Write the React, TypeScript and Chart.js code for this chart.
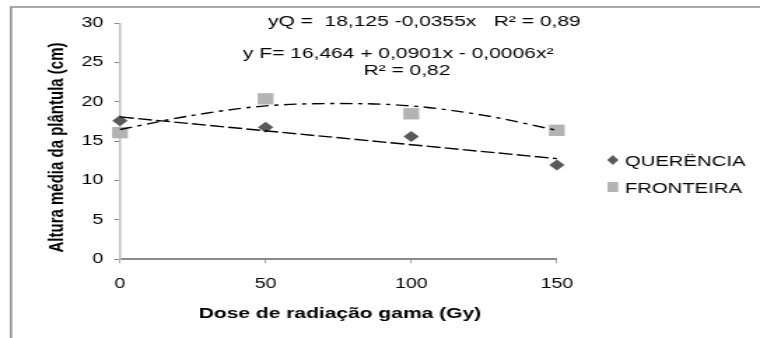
import { useEffect, useRef } from "react";
import { Chart, registerables } from "chart.js";

Chart.register(...registerables);

// ---- data ----
const doses = [0, 50, 100, 150];
const querencia = [17.6, 16.8, 15.6, 12.0];
const fronteira = [16.1, 20.4, 18.5, 16.4];
const trendQDoses = [0, 150];
const trendQ = [18.1, 12.8];
const trendFDoses = [0, 25, 50, 75, 100, 125, 150];
const trendF = [16.5, 18.3, 19.5, 19.8, 19.5, 18.3, 16.4];
const seriesLabels = ["QUERËNCIA", "FRONTEIRA"];
const xTicks = [0, 50, 100, 150];
const yTicks = [0, 5, 10, 15, 20, 25, 30];
const eqQ = "yQ =  18,125 -0,0355x   R² = 0,89";
const eqF = "y F= 16,464 + 0,0901x - 0,0006x²";
const eqFR2 = "R² = 0,82";
const xTitle = "Dose de radiação gama (Gy)";
const yTitle = "Altura média da plântula (cm)";

// ---- layout (the picture is horizontally stretched) ----
const S = 1.4;
const W = Math.round(760 / S);
const H = 338;
const sx = (v: number) => v / S;
const FONT = "'Liberation Sans', Arial, sans-serif";
const Q_COLOR = "#595959";
const F_COLOR = "#b3b3b3";

const pts = (xs: number[], ys: number[]) => xs.map((x, i) => ({ x, y: ys[i] }));

const decor = {
  id: "decor",
  afterDraw(chart: any) {
    const ctx = chart.ctx as CanvasRenderingContext2D;
    ctx.save();
    // frame
    ctx.strokeStyle = "#8c8c8c";
    ctx.lineWidth = 1.5;
    ctx.beginPath();
    ctx.moveTo(sx(11), H);
    ctx.lineTo(sx(11), 7);
    ctx.lineTo(W, 7);
    ctx.stroke();

    ctx.fillStyle = "#000";
    // equations
    ctx.font = `15px ${FONT}`;
    ctx.textAlign = "left";
    ctx.textBaseline = "alphabetic";
    ctx.fillText(eqQ, sx(268), 26);
    ctx.fillText(eqF, sx(243), 58);
    ctx.textAlign = "center";
    ctx.fillText(eqFR2, sx(407), 75);

    // axis titles
    ctx.font = `bold 15px ${FONT}`;
    ctx.textAlign = "center";
    ctx.fillText(xTitle, sx(340), 317.5);
    ctx.save();
    ctx.translate(sx(63), 147.5);
    ctx.rotate(-Math.PI / 2);
    ctx.fillText(yTitle, 0, 0);
    ctx.restore();

    // legend
    ctx.font = `14.5px ${FONT}`;
    ctx.textAlign = "left";
    ctx.fillText(seriesLabels[0], sx(625), 166);
    ctx.fillText(seriesLabels[1], sx(625), 193);
    const lx = sx(613);
    ctx.fillStyle = Q_COLOR;
    ctx.beginPath();
    ctx.moveTo(lx - 4, 160);
    ctx.lineTo(lx, 155);
    ctx.lineTo(lx + 4, 160);
    ctx.lineTo(lx, 165);
    ctx.closePath();
    ctx.fill();
    ctx.fillStyle = F_COLOR;
    ctx.fillRect(lx - 3.8, 182, 7.6, 10);
    ctx.restore();
  },
};

export default function App() {
  const ref = useRef<HTMLCanvasElement>(null);
  useEffect(() => {
    document.body.style.margin = "0";
    const chart = new Chart(ref.current!, {
      type: "scatter",
      data: {
        datasets: [
          {
            type: "line",
            label: "trendQ",
            data: pts(trendQDoses, trendQ),
            showLine: true,
            pointRadius: 0,
            borderColor: "#000",
            borderWidth: 1.4,
            borderDash: [10, 3],
            fill: false,
            clip: false,
          },
          {
            type: "line",
            label: "trendF",
            data: pts(trendFDoses, trendF),
            showLine: true,
            pointRadius: 0,
            borderColor: "#000",
            borderWidth: 1.4,
            borderDash: [9, 4, 3, 4],
            cubicInterpolationMode: "monotone",
            fill: false,
            clip: false,
          },
          {
            label: seriesLabels[0],
            data: pts(doses, querencia),
            pointStyle: "rectRot",
            pointRadius: 5.5,
            backgroundColor: Q_COLOR,
            borderColor: Q_COLOR,
            borderWidth: 0,
            clip: false,
          },
          {
            label: seriesLabels[1],
            data: pts(doses, fronteira),
            pointStyle: "rect",
            pointRadius: 8,
            backgroundColor: F_COLOR,
            borderColor: F_COLOR,
            borderWidth: 0,
            clip: false,
          },
        ],
      },
      options: {
        responsive: false,
        animation: false,
        devicePixelRatio: 1,
        layout: {
          autoPadding: false,
          padding: { left: 0, top: 23.3, right: W - sx(557), bottom: 0 },
        },
        plugins: { legend: { display: false }, tooltip: { enabled: false } },
        scales: {
          x: {
            type: "linear",
            min: 0,
            max: 150,
            afterBuildTicks: (s: any) => {
              s.ticks = xTicks.map((v) => ({ value: v }));
            },
            afterFit: (s: any) => {
              s.height = H - 259.3;
            },
            ticks: { color: "#000", font: { family: FONT, size: 14 }, padding: 12 },
            grid: { drawOnChartArea: false, drawTicks: true, tickLength: 4, color: "#a6a6a6" },
            border: { display: true, color: "#8a8a8a", width: 2 },
          },
          y: {
            type: "linear",
            min: 0,
            max: 30,
            afterBuildTicks: (s: any) => {
              s.ticks = yTicks.map((v) => ({ value: v }));
            },
            afterFit: (s: any) => {
              s.width = sx(120);
            },
            ticks: { color: "#000", font: { family: FONT, size: 14 }, padding: 8 },
            grid: { drawOnChartArea: false, drawTicks: true, tickLength: 4, color: "#8a8a8a" },
            border: { display: true, color: "#c0c0c0", width: 1.5 },
          },
        },
      },
      plugins: [decor],
    } as any);
    return () => chart.destroy();
  }, []);
  return (
    <canvas
      ref={ref}
      width={W}
      height={H}
      style={{ width: "760px", height: "338px", display: "block" }}
    />
  );
}
